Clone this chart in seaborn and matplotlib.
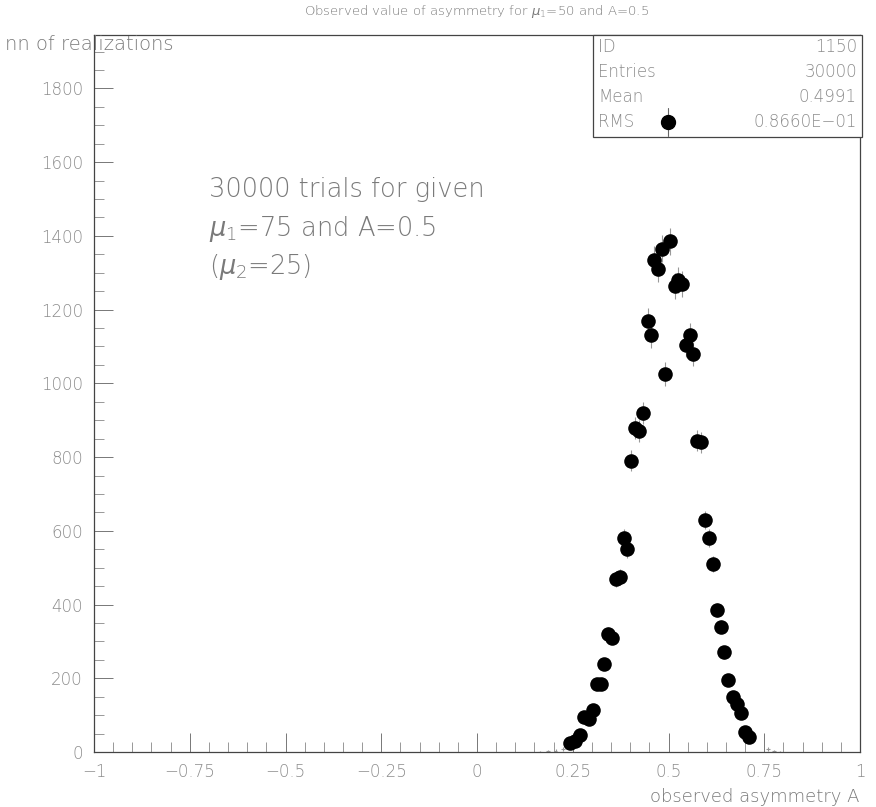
import numpy as np
import pandas as pd
import matplotlib
matplotlib.use("Agg")
import matplotlib.pyplot as plt
from matplotlib.ticker import MultipleLocator
import seaborn as sns

# ---- data ----
asym = [0.243, 0.256, 0.269, 0.279, 0.292, 0.303, 0.313, 0.324, 0.332, 0.342,
        0.353, 0.363, 0.373, 0.384, 0.392, 0.402, 0.413, 0.423, 0.433, 0.447,
        0.454, 0.462, 0.473, 0.483, 0.491, 0.504, 0.517, 0.525, 0.535, 0.546,
        0.556, 0.564, 0.574, 0.585, 0.595, 0.606, 0.616, 0.627, 0.637, 0.645,
        0.655, 0.668, 0.679, 0.689, 0.700, 0.710]
counts = [25, 30, 45, 95, 90, 115, 185, 185, 240, 320,
          310, 470, 475, 580, 550, 790, 880, 870, 920, 1170,
          1130, 1335, 1310, 1365, 1025, 1385, 1265, 1280, 1270, 1105,
          1130, 1080, 845, 840, 630, 580, 510, 385, 340, 270,
          195, 150, 130, 105, 55, 40]
tail_x = [0.165, 0.185, 0.205, 0.225, 0.760, 0.775, 0.790]
tail_y = [1, 2, 4, 8, 8, 3, 1]

xticks = [-1, -0.75, -0.5, -0.25, 0, 0.25, 0.5, 0.75, 1]
xtick_labels = ["\u22121", "\u22120.75", "\u22120.5", "\u22120.25", "0", "0.25", "0.5", "0.75", "1"]
yticks = [0, 200, 400, 600, 800, 1000, 1200, 1400, 1600, 1800]

stats_names = ["ID", "Entries", "Mean", "RMS"]
stats_values = ["1150", "30000", "0.4991", "0.8660E\u221201"]

title = r"Observed value of asymmetry for $\mu_1$=50 and A=0.5"
ylabel = "nn of realizations"
xlabel = "observed asymmetry A"
note_lines = ["30000 trials for given", r"$\mu_1$=75 and A=0.5", r"($\mu_2$=25)"]

df = pd.DataFrame({"asym": asym, "counts": counts})

sns.set_style("ticks")
plt.rcParams["font.family"] = ["DejaVu Sans"]
plt.rcParams["font.weight"] = 200
plt.rcParams["mathtext.fontset"] = "dejavusans"

TXT = "#7a7a7a"
TICK = "#8c8c8c"
fig = plt.figure(figsize=(8.76, 8.07), dpi=100)
ax = fig.add_axes([94/876, 1-752/807, (860-94)/876, (752-35)/807])

ax.errorbar(tail_x, tail_y, yerr=np.sqrt(tail_y) + 2, xerr=0.005, fmt="none",
            ecolor="#999999", elinewidth=0.8)
ax.errorbar(df["asym"], df["counts"], yerr=np.sqrt(df["counts"]), fmt="none",
            ecolor="#999999", elinewidth=0.8, zorder=2)
sns.scatterplot(data=df, x="asym", y="counts", ax=ax, color="black", s=110,
                edgecolor="black", linewidth=0, zorder=3, legend=False)

ax.set_xlim(-1, 1)
ax.set_ylim(0, 1945)
ax.set_xticks(xticks)
ax.set_xticklabels(xtick_labels)
ax.set_yticks(yticks)
ax.xaxis.set_minor_locator(MultipleLocator(0.05))
ax.yaxis.set_minor_locator(MultipleLocator(50))
ax.tick_params(axis="both", which="major", direction="in", length=14, width=0.7,
               colors="#777777", labelcolor=TICK, labelsize=12, pad=8)
ax.tick_params(axis="both", which="minor", direction="in", length=7, width=0.6,
               colors="#888888")
ax.set_xlabel("")
ax.set_ylabel("")
for s in ax.spines.values():
    s.set_color("#444444")
    s.set_linewidth(0.9)

fig.text(477/876, 1-12/807, title, ha="center", va="center", fontsize=9.5,
         color=TXT)
fig.text(5/876, 1-45/807, ylabel, ha="left", va="center", fontsize=14,
         color=TXT)
fig.text(860/876, 1-797/807, xlabel, ha="right", va="center", fontsize=13,
         color=TXT)

for i, line in enumerate(note_lines):
    ax.text(-0.70, 1525 - i*105, line, ha="left", va="center", fontsize=18.5,
            color=TXT)

# stats box
bx0, by0, bx1, by1 = 593/876, 1-137/807, 862/876, 1-35/807
box = plt.Rectangle((bx0, by0), bx1-bx0, by1-by0, transform=fig.transFigure,
                    fill=True, facecolor="white", edgecolor="#444444", lw=0.9, zorder=5)
fig.add_artist(box)
for i, (n, v) in enumerate(zip(stats_names, stats_values)):
    yy = 1-(47+25*i)/807
    fig.text(598/876, yy, n, ha="left", va="center", fontsize=12, color=TICK,
             zorder=6)
    fig.text(857/876, yy, v, ha="right", va="center", fontsize=12, color=TICK,
             zorder=6)
lx, ly = 668/876, 1-122/807
fig.add_artist(plt.Line2D([lx, lx], [ly-14/807, ly+14/807], transform=fig.transFigure,
                          color="#666666", lw=0.8, zorder=6))
fig.add_artist(plt.Line2D([lx], [ly], transform=fig.transFigure, marker="o",
                          markersize=10, color="black", zorder=7))

fig.savefig("out.png", dpi=100)
